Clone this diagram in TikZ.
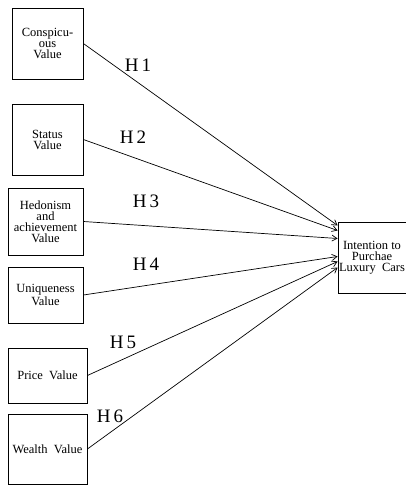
\documentclass[tikz,border=0pt]{standalone}
\usepackage{fontspec}
\setmainfont{Liberation Serif}
\usetikzlibrary{arrows.meta}

\begin{document}
\begin{tikzpicture}[
      x=1pt, y=-1pt,
      >={Straight Barb[length=5pt,width=6pt]},
      valbox/.style={draw, line width=0.8pt, align=center, inner sep=1pt,
                     font=\fontsize{12.5}{11}\selectfont},
      hyp/.style={font=\fontsize{19}{19}\selectfont},
      seta/.style={->, line width=0.7pt}
  ]
      \useasboundingbox (0,0) rectangle (406,485);

      % Valores percebidos
      \node[valbox, minimum width=71pt, minimum height=71pt] (consp) at (47.5,43.5)
        {Conspicu-\\ous\\Value};
      \node[valbox, minimum width=71pt, minimum height=71pt] (stat)  at (47.5,139.5)
        {Status\\Value};
      \node[valbox, minimum width=75pt, minimum height=67pt] (hedon) at (45.5,221.5)
        {Hedonism\\and\\achievement\\Value};
      \node[valbox, minimum width=75pt, minimum height=56pt] (uniq)  at (45.5,295)
        {Uniqueness\\Value};
      \node[valbox, minimum width=79pt, minimum height=55pt] (price) at (47.5,375.5)
        {Price~ Value};
      \node[valbox, minimum width=79pt, minimum height=70pt] (wealth) at (47.5,449)
        {Wealth~ Value};

      % Variavel dependente
      \node[valbox, minimum width=68pt, minimum height=71pt] (intent) at (372,257.5)
        {Intention to\\Purchae\\Luxury~ Cars};

      % Setas das hipoteses
      \draw[seta] (consp.east)  -- ([yshift=32pt]intent.west);
      \draw[seta] (stat.east)   -- ([yshift=27pt]intent.west);
      \draw[seta] (hedon.east)  -- ([yshift=19pt]intent.west);
      \draw[seta] (uniq.east)   -- ([yshift=1pt]intent.west);
      \draw[seta] (price.east)  -- ([yshift=-4pt]intent.west);
      \draw[seta] (wealth.east) -- ([yshift=-10pt]intent.west);

      % Rotulos
      \node[hyp] (h1) at (138,65)  {H\,1};
      \node[hyp] (h2) at (133,137) {H\,2};
      \node[hyp] (h3) at (146,201) {H\,3};
      \node[hyp] (h4) at (146,264) {H\,4};
      \node[hyp] (h5) at (123,342) {H\,5};
      \node[hyp] (h6) at (110,416) {H\,6};
  \end{tikzpicture}
\end{document}
